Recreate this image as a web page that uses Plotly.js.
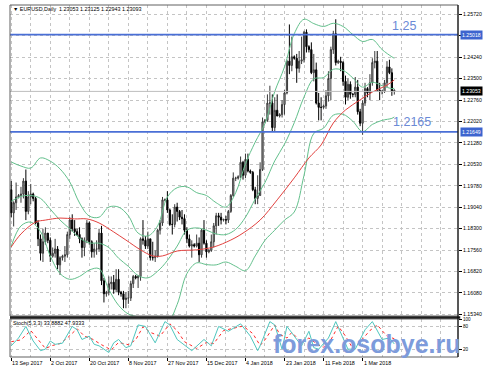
<!DOCTYPE html>
<html><head><meta charset="utf-8">
<script src="https://cdn.plot.ly/plotly-3.0.1.min.js"></script>
<style>html,body{margin:0;padding:0;background:#fff;}#chart{width:488px;height:373px;}</style>
</head><body><div id="chart"></div>
<script>
// ---- Candles (EURUSD Daily, bar index 0 = 13 Sep 2017) ----
const openP=[1.1965,1.1885,1.1920,1.1940,1.1945,1.1950,1.1995,1.1890,1.1940,1.1950,
1.1935,1.1850,1.1795,1.1745,1.1785,1.1815,1.1790,1.1735,1.1745,1.1760,
1.1705,1.1730,1.1735,1.1740,1.1810,1.1860,1.1830,1.1820,1.1810,1.1795,
1.1765,1.1790,1.1850,1.1785,1.1750,1.1760,1.1760,1.1815,1.1650,1.1605,
1.1610,1.1640,1.1645,1.1620,1.1655,1.1610,1.1605,1.1585,1.1590,1.1590,
1.1640,1.1665,1.1660,1.1665,1.1795,1.1790,1.1770,1.1795,1.1730,1.1730,
1.1735,1.1825,1.1850,1.1930,1.1930,1.1895,1.1845,1.1845,1.1905,1.1890,
1.1870,1.1865,1.1825,1.1795,1.1770,1.1775,1.1770,1.1780,1.1740,1.1825,
1.1780,1.1750,1.1755,1.1785,1.1840,1.1875,1.1870,1.1860,1.1862,1.1860,
1.1890,1.1945,1.2005,1.2005,1.2010,1.2060,1.2015,1.2070,1.2030,1.2025,
1.1965,1.1935,1.1945,1.2035,1.2200,1.2205,1.2265,1.2265,1.2180,1.2240,
1.2220,1.2225,1.2260,1.2300,1.2410,1.2395,1.2425,1.2420,1.2385,1.2410,
1.2415,1.2510,1.2460,1.2450,1.2370,1.2380,1.2265,1.2250,1.2250,1.2255,
1.2290,1.2350,1.2450,1.2505,1.2405,1.2410,1.2405,1.2340,1.2285,1.2330,
1.2295,1.2295,1.2320,1.2235,1.2195,1.2265,1.2315,1.2300,1.2335,1.2405,
1.2410,1.2310,1.2305,1.2305,1.2335,1.2390,1.2370,1.23053];
const highP=[1.1995,1.1925,1.1990,1.1950,1.1975,1.2005,1.2035,1.1960,1.1985,1.1955,
1.1940,1.1860,1.1810,1.1830,1.1835,1.1815,1.1800,1.1765,1.1795,1.1770,
1.1735,1.1740,1.1770,1.1820,1.1870,1.1880,1.1860,1.1830,1.1835,1.1800,
1.1800,1.1860,1.1855,1.1790,1.1780,1.1790,1.1830,1.1840,1.1660,1.1615,
1.1665,1.1665,1.1670,1.1690,1.1690,1.1615,1.1615,1.1610,1.1615,1.1650,
1.1670,1.1670,1.1670,1.1800,1.1860,1.1805,1.1820,1.1795,1.1785,1.1755,
1.1830,1.1860,1.1940,1.1935,1.1960,1.1900,1.1880,1.1915,1.1920,1.1895,
1.1895,1.1880,1.1835,1.1810,1.1790,1.1780,1.1810,1.1800,1.1830,1.1860,
1.1790,1.1760,1.1810,1.1850,1.1885,1.1885,1.1885,1.1865,1.1875,1.1895,
1.1950,1.2025,1.2010,1.2015,1.2080,1.2065,1.2090,1.2090,1.2035,1.2030,
1.1975,1.2015,1.2060,1.2215,1.2210,1.2295,1.2325,1.2295,1.2285,1.2295,
1.2230,1.2275,1.2310,1.2415,1.2537,1.2495,1.2430,1.2435,1.2445,1.2495,
1.2515,1.2520,1.2465,1.2475,1.2435,1.2405,1.2300,1.2285,1.2260,1.2310,
1.2375,1.2460,1.2515,1.2555,1.2415,1.2425,1.2410,1.2360,1.2350,1.2340,
1.2300,1.2355,1.2345,1.2245,1.2275,1.2335,1.2320,1.2365,1.2420,1.2445,
1.2445,1.2335,1.2310,1.2345,1.2410,1.2415,1.2385,1.23125];
const lowP=[1.1870,1.1838,1.1895,1.1935,1.1920,1.1935,1.1860,1.1880,1.1915,1.1925,
1.1845,1.1770,1.1720,1.1715,1.1775,1.1780,1.1715,1.1730,1.1730,1.1690,
1.1670,1.1720,1.1715,1.1730,1.1795,1.1820,1.1805,1.1805,1.1780,1.1730,
1.1735,1.1780,1.1775,1.1730,1.1730,1.1740,1.1750,1.1635,1.1575,1.1595,
1.1600,1.1620,1.1605,1.1610,1.1600,1.1595,1.1555,1.1555,1.1570,1.1580,
1.1625,1.1655,1.1625,1.1650,1.1775,1.1760,1.1760,1.1720,1.1720,1.1715,
1.1730,1.1810,1.1840,1.1925,1.1885,1.1840,1.1810,1.1835,1.1855,1.1860,
1.1845,1.1810,1.1780,1.1765,1.1730,1.1765,1.1765,1.1715,1.1730,1.1775,
1.1730,1.1745,1.1750,1.1765,1.1810,1.1840,1.1845,1.1855,1.1845,1.1850,
1.1885,1.1940,1.1995,1.2000,1.2005,1.2000,1.2005,1.2025,1.2020,1.1960,
1.1915,1.1915,1.1945,1.2030,1.2195,1.2200,1.2225,1.2165,1.2165,1.2220,
1.2215,1.2215,1.2225,1.2295,1.2365,1.2375,1.2415,1.2335,1.2370,1.2400,
1.2405,1.2440,1.2440,1.2365,1.2340,1.2260,1.2205,1.2205,1.2245,1.2245,
1.2270,1.2275,1.2435,1.2395,1.2400,1.2375,1.2325,1.2260,1.2275,1.2280,
1.2285,1.2285,1.2225,1.2185,1.2155,1.2255,1.2285,1.2275,1.2325,1.2385,
1.2305,1.2275,1.2295,1.2300,1.2320,1.2365,1.2290,1.22943];
const closeP=[1.1885,1.1920,1.1940,1.1945,1.1950,1.1995,1.1890,1.1940,1.1950,1.1935,
1.1850,1.1795,1.1745,1.1785,1.1815,1.1790,1.1735,1.1745,1.1760,1.1705,
1.1730,1.1735,1.1740,1.1810,1.1860,1.1830,1.1820,1.1810,1.1795,1.1765,
1.1790,1.1850,1.1785,1.1750,1.1760,1.1760,1.1815,1.1650,1.1605,1.1610,
1.1640,1.1645,1.1620,1.1655,1.1610,1.1605,1.1585,1.1590,1.1590,1.1640,
1.1665,1.1660,1.1665,1.1795,1.1790,1.1770,1.1795,1.1730,1.1730,1.1735,
1.1825,1.1850,1.1930,1.1930,1.1895,1.1845,1.1845,1.1905,1.1890,1.1870,
1.1865,1.1825,1.1795,1.1770,1.1775,1.1770,1.1780,1.1740,1.1825,1.1780,
1.1750,1.1755,1.1785,1.1840,1.1875,1.1870,1.1860,1.1862,1.1860,1.1890,
1.1945,1.2005,1.2005,1.2010,1.2060,1.2015,1.2070,1.2030,1.2025,1.1965,
1.1935,1.1945,1.2035,1.2200,1.2205,1.2265,1.2265,1.2180,1.2240,1.2220,
1.2225,1.2260,1.2300,1.2410,1.2395,1.2425,1.2420,1.2385,1.2410,1.2415,
1.2510,1.2460,1.2450,1.2370,1.2380,1.2265,1.2250,1.2250,1.2255,1.2290,
1.2350,1.2450,1.2505,1.2405,1.2410,1.2405,1.2340,1.2285,1.2330,1.2295,
1.2295,1.2320,1.2235,1.2195,1.2265,1.2315,1.2300,1.2335,1.2405,1.2410,
1.2310,1.2305,1.2305,1.2335,1.2390,1.2370,1.2305,1.23093];

const bandIdx=[0,4,8,12,16,20,24,28,32,36,40,44,48,52,56,60,64,68,72,76,80,84,88,92,96,100,104,108,112,116,120,124,128,132,136,140,144,148,152,156,157];
const bbUpper=[1.2061,1.2047,1.2040,1.2075,1.2064,1.2037,1.1992,1.1919,1.1874,1.1870,1.1905,1.1905,1.1875,1.1815,1.1805,1.1840,1.1940,1.1972,1.1975,1.1955,1.1945,1.1920,1.1905,1.1955,1.2055,1.2130,1.2195,1.2305,1.2390,1.2505,1.2555,1.2540,1.2530,1.2541,1.2530,1.2502,1.2478,1.2485,1.2450,1.2425,1.2420];
const bbMid=[1.1925,1.1942,1.1945,1.1935,1.1898,1.1860,1.1830,1.1798,1.1781,1.1780,1.1765,1.1728,1.1700,1.1668,1.1660,1.1683,1.1720,1.1770,1.1825,1.1833,1.1825,1.1812,1.1810,1.1828,1.1870,1.1933,1.1990,1.2065,1.2123,1.2197,1.2286,1.2349,1.2353,1.2382,1.2378,1.2352,1.2320,1.2337,1.2325,1.2315,1.2316];
const bbLower=[1.1770,1.1840,1.1853,1.1820,1.1736,1.1675,1.1655,1.1665,1.1687,1.1692,1.1620,1.1565,1.1535,1.1525,1.1518,1.1527,1.1505,1.1568,1.1675,1.1712,1.1706,1.1705,1.1715,1.1700,1.1685,1.1736,1.1790,1.1825,1.1860,1.1888,1.2015,1.2160,1.2178,1.2223,1.2226,1.2202,1.2166,1.2191,1.2205,1.2212,1.2217];

// ---- Moving average (red) ----
const maIdx=[0,4,10,14,20,26,31,36,42,47,53,58,62,68,76,83,90,95,102,109,116,122,127,132,137,143,148,154,157];
const maVals=[1.1767,1.1812,1.1853,1.1860,1.1867,1.1864,1.1864,1.1850,1.1819,1.1791,1.1757,1.1736,1.1736,1.1753,1.1757,1.1767,1.1791,1.1815,1.1860,1.1930,1.2006,1.2075,1.2120,1.2196,1.2241,1.2276,1.2303,1.2327,1.2345];

// ---- Stochastic(5,3,3) ----
const stochIdx=[0,3,6,9,12,14,16,18,21,25,27,29,32,34,36,40,42,44,47,49,52,55,59,63,65,68,74,76,79,82,85,89,94,98,101,102,106,108,111,113,117,119,122,124,126,130,133,135,138,141,145,148,152,155,157];
const stochK=[29,50,81,42,16,20,42,33,36,81,72,46,55,33,29,11,37,46,24,29,85,81,37,94,85,46,16,29,46,29,81,68,88,55,16,29,94,85,20,81,46,29,68,24,20,50,94,63,20,20,72,94,46,50,34];
const sigIdx=[0,4,8,11,14,17,20,23,27,30,33,37,41,44,48,51,54,57,61,65,68,71,76,80,83,87,91,95,99,102,104,108,110,113,115,119,122,125,128,131,134,137,140,143,147,150,154,157];
const stochD=[40,45,70,45,22,30,35,50,75,55,48,32,18,38,32,45,80,65,55,88,70,40,22,38,35,70,75,82,62,30,45,85,60,50,65,38,50,35,25,45,82,55,22,40,70,85,55,48];

// ---- Levels and labels ----
const resistance=1.25018, support=1.21649, lastPrice=1.23053;
const levelLabels=["1.25018","1.21649","1.23053"];
const resistanceText="1.25", supportText="1.2165";
const yTickVals=[1.15340,1.16081,1.16823,1.17564,1.18306,1.19047,1.19788,1.20530,1.21271,1.22013,1.22754,1.23496,1.24237,1.24978,1.25720];
const yTickText=["1.15340","1.16080","1.16820","1.17560","1.18300","1.19040","1.19780","1.20530","1.21280","1.22020","1.22760","1.23500","1.24240","","1.25720"];
const stochTickVals=[20,80,100], stochTickText=["20","80","100"];
const xLabelIdx=[0,16,32,48,64,80,96,112,128,144];
const xLabels=["13 Sep 2017","2 Oct 2017","20 Oct 2017","8 Nov 2017","27 Nov 2017","15 Dec 2017","4 Jan 2018","23 Jan 2018","11 Feb 2018","1 Mar 2018"];
const headerText="\u25BC EURUSD,Daily  1.23053 1.23125 1.22943 1.23093";
const stochText="Stoch(5,3,3) 33.8882 47.9333";
const watermark="forex.osobye.ru";

const barIdx=openP.map((_,i)=>i);
const FONT="Liberation Sans, Arial, sans-serif";
const mainDom=[0.1165,1], stDom=[0,0.108];
const bandColor='#63c08c';

const traces=[
 {type:'candlestick',x:barIdx,open:openP,high:highP,low:lowP,close:closeP,xaxis:'x',yaxis:'y',
  increasing:{line:{color:'#3a3a3a',width:1},fillcolor:'#b4b4b4'},
  decreasing:{line:{color:'#000',width:1},fillcolor:'#000'},whiskerwidth:0,hoverinfo:'skip',showlegend:false},
 {type:'scatter',mode:'lines',x:bandIdx,y:bbUpper,line:{color:bandColor,width:1,shape:'spline'},hoverinfo:'skip',showlegend:false},
 {type:'scatter',mode:'lines',x:bandIdx,y:bbMid,line:{color:bandColor,width:1,shape:'spline'},hoverinfo:'skip',showlegend:false},
 {type:'scatter',mode:'lines',x:bandIdx,y:bbLower,line:{color:bandColor,width:1,shape:'spline'},hoverinfo:'skip',showlegend:false},
 {type:'scatter',mode:'lines',x:maIdx,y:maVals,line:{color:'#e2423f',width:1,shape:'spline'},hoverinfo:'skip',showlegend:false},
 {type:'scatter',mode:'lines',x:sigIdx,y:stochD,xaxis:'x',yaxis:'y2',line:{color:'#ff2a2a',width:1,dash:'dot'},hoverinfo:'skip',showlegend:false},
 {type:'scatter',mode:'lines',x:stochIdx,y:stochK,xaxis:'x',yaxis:'y2',line:{color:'#4fc6be',width:1},hoverinfo:'skip',showlegend:false}
];

const annotations=[];
xLabels.forEach((t,i)=>annotations.push({text:t,x:xLabelIdx[i],xref:'x',y:0,yref:'paper',xanchor:'left',yanchor:'top',yshift:-2,showarrow:false,font:{family:FONT,size:5.4,color:'#000'},borderpad:0}));
annotations.push({text:headerText,x:0.004,xref:'paper',y:1.2590,yref:'y',xanchor:'left',yanchor:'middle',showarrow:false,font:{family:FONT,size:5.4,color:'#000'},borderpad:0});
annotations.push({text:stochText,x:0.004,xref:'paper',y:90,yref:'y2',xanchor:'left',yanchor:'middle',showarrow:false,font:{family:FONT,size:5.4,color:'#000'},borderpad:0});
annotations.push({text:resistanceText,x:0.8504,xref:'paper',y:1.2530,yref:'y',xanchor:'left',yanchor:'middle',showarrow:false,font:{family:FONT,size:12.5,color:'#6b8ad6'},borderpad:0});
annotations.push({text:supportText,x:0.8527,xref:'paper',y:1.2198,yref:'y',xanchor:'left',yanchor:'middle',showarrow:false,font:{family:FONT,size:12.5,color:'#6b8ad6'},borderpad:0});
[[resistance,'#3d64cf'],[support,'#3d64cf'],[lastPrice,'#000']].forEach(([v,c],i)=>annotations.push({text:levelLabels[i],x:1.004,xref:'paper',y:v,yref:'y',xanchor:'left',yanchor:'middle',showarrow:false,bgcolor:c,font:{family:FONT,size:5.2,color:'#fff'},borderpad:1}));
annotations.push({text:'<b>'+watermark+'</b>',x:0.5848,xref:'paper',y:0.036,yref:'paper',xanchor:'left',yanchor:'middle',showarrow:false,font:{family:FONT,size:25,color:'#7d9bdb'},borderpad:0});

const shapes=[
 {type:'line',xref:'paper',x0:0,x1:1,yref:'y',y0:lastPrice,y1:lastPrice,line:{color:'#bdbdbd',width:1}},
 {type:'line',xref:'paper',x0:0,x1:1,yref:'y',y0:resistance,y1:resistance,line:{color:'#4a6fd6',width:1.8}},
 {type:'line',xref:'paper',x0:0,x1:1,yref:'y',y0:support,y1:support,line:{color:'#4a6fd6',width:1.8}},
 {type:'rect',xref:'paper',yref:'paper',x0:0,x1:1,y0:mainDom[0],y1:1,line:{color:'#606060',width:1}},
 {type:'rect',xref:'paper',yref:'paper',x0:0,x1:1,y0:0,y1:stDom[1],line:{color:'#606060',width:1}},
 {type:'line',xref:'paper',yref:'paper',x0:0,x1:1.005,y0:(mainDom[0]+stDom[1])/2,y1:(mainDom[0]+stDom[1])/2,line:{color:'#202020',width:2.5}},
 {type:'line',xref:'paper',yref:'paper',x0:1,x1:1,y0:0,y1:1,line:{color:'#000',width:1}}
];

const grid={showgrid:true,gridcolor:'#c4c4c4',gridwidth:1,griddash:'dot'};
const layout={
 width:488,height:373,margin:{l:10,r:30,t:5,b:16,pad:0},
 paper_bgcolor:'#fff',plot_bgcolor:'#fff',showlegend:false,dragmode:false,
 font:{family:FONT,size:5.2,color:'#000'},
 xaxis:Object.assign({range:[-0.5,183.1],anchor:'y2',tickmode:'array',tickvals:xLabelIdx,ticktext:xLabelIdx.map(()=>''),ticks:'outside',ticklen:3,tickcolor:'#000',showticklabels:false,zeroline:false,rangeslider:{visible:false},
   minor:{tickmode:'linear',tick0:0,dtick:8,showgrid:true,gridcolor:'#c4c4c4',griddash:'dot',ticks:''}},grid),
 yaxis:Object.assign({domain:mainDom,range:[1.15281,1.26043],side:'right',tickmode:'array',tickvals:yTickVals,ticktext:yTickText,ticks:'outside',ticklen:3,tickcolor:'#000',tickfont:{family:FONT,size:5.2},zeroline:false,anchor:'x'},grid),
 yaxis2:Object.assign({domain:stDom,range:[-1,101],side:'right',tickmode:'array',tickvals:stochTickVals,ticktext:stochTickText,ticks:'outside',ticklen:3,tickcolor:'#000',tickfont:{family:FONT,size:4.6},zeroline:false,anchor:'x'},grid),
 annotations:annotations,shapes:shapes
};
Plotly.newPlot('chart',traces,layout,{staticPlot:true,displayModeBar:false});
</script></body></html>
